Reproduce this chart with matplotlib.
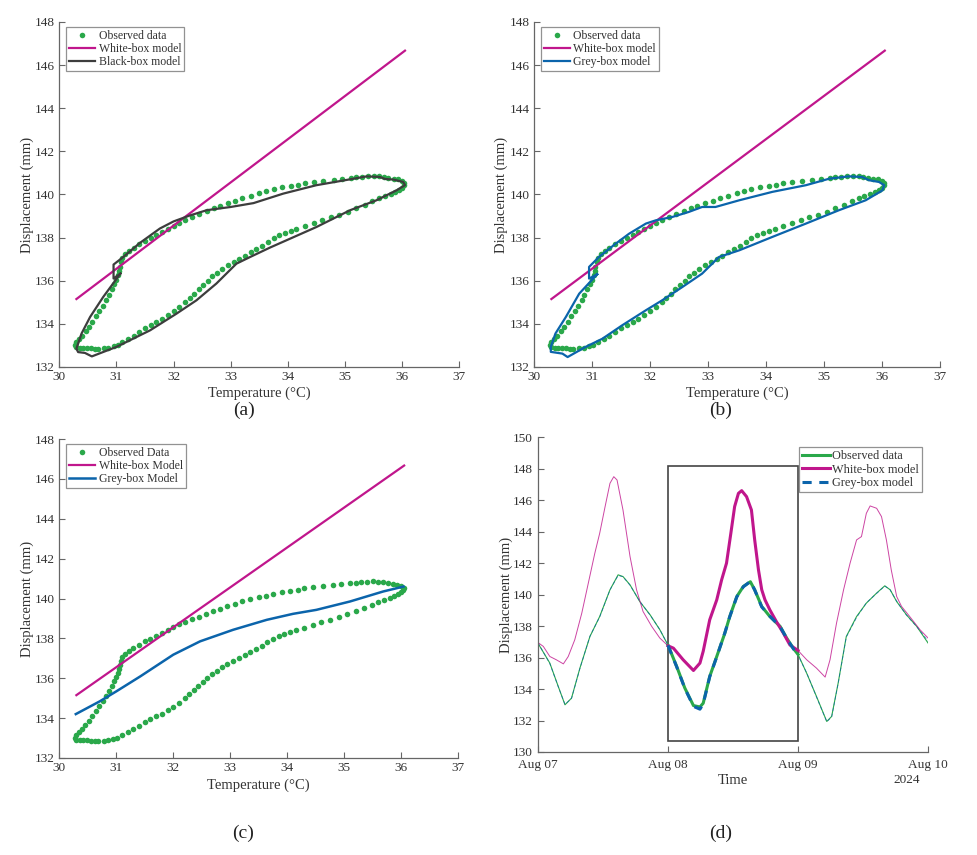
import numpy as np
import matplotlib.pyplot as plt
from matplotlib.patches import Rectangle

plt.rcParams['font.family'] = ['Liberation Serif', 'DejaVu Serif']

# observed hysteresis loop (temperature degC, displacement mm), Aug 08
obs_temp = [31.10, 31.08, 31.06, 31.05, 31.03, 31.00, 30.96, 30.92, 30.87, 30.82,
            30.76, 30.70, 30.64, 30.58, 30.52, 30.46, 30.40, 30.35, 30.30, 30.27,
            30.30, 30.36, 30.42, 30.48, 30.55, 30.62, 30.68, 30.78, 30.86, 30.95,
            31.02, 31.10, 31.20, 31.30, 31.40, 31.50, 31.60, 31.70, 31.80, 31.90,
            32.00, 32.10, 32.20, 32.28, 32.36, 32.44, 32.52, 32.60, 32.68, 32.76,
            32.85, 32.95, 33.05, 33.15, 33.25, 33.35, 33.45, 33.55, 33.65, 33.75,
            33.85, 33.95, 34.05, 34.15, 34.30, 34.45, 34.60, 34.75, 34.90, 35.05,
            35.20, 35.35, 35.48, 35.60, 35.70, 35.80, 35.88, 35.95, 36.00, 36.03,
            36.04, 36.00, 35.93, 35.85, 35.76, 35.68, 35.60, 35.50, 35.40, 35.30,
            35.20, 35.10, 34.95, 34.80, 34.62, 34.45, 34.30, 34.18, 34.05, 33.90,
            33.75, 33.62, 33.50, 33.35, 33.20, 33.08, 32.95, 32.82, 32.70, 32.58,
            32.45, 32.32, 32.20, 32.10, 32.00, 31.90, 31.80, 31.70, 31.60, 31.50,
            31.40, 31.30, 31.22, 31.15]
obs_disp = [137.05, 136.85, 136.65, 136.45, 136.25, 136.05, 135.85, 135.60, 135.35, 135.10,
            134.85, 134.60, 134.35, 134.10, 133.85, 133.65, 133.45, 133.30, 133.15, 133.02,
            132.92, 132.88, 132.90, 132.88, 132.87, 132.85, 132.83, 132.87, 132.90, 132.95,
            133.02, 133.15, 133.30, 133.45, 133.62, 133.80, 133.95, 134.08, 134.22, 134.40,
            134.58, 134.78, 135.00, 135.20, 135.40, 135.60, 135.80, 136.00, 136.20, 136.38,
            136.55, 136.72, 136.88, 137.02, 137.15, 137.32, 137.48, 137.62, 137.80, 137.97,
            138.10, 138.20, 138.30, 138.40, 138.52, 138.66, 138.80, 138.94, 139.06, 139.20,
            139.36, 139.52, 139.68, 139.82, 139.94, 140.04, 140.12, 140.22, 140.32, 140.42,
            140.52, 140.62, 140.70, 140.74, 140.78, 140.82, 140.85, 140.86, 140.85, 140.82,
            140.80, 140.78, 140.72, 140.68, 140.63, 140.58, 140.52, 140.45, 140.40, 140.33,
            140.25, 140.15, 140.08, 139.95, 139.85, 139.72, 139.60, 139.48, 139.36, 139.22,
            139.08, 138.95, 138.82, 138.70, 138.55, 138.42, 138.28, 138.12, 137.98, 137.85,
            137.68, 137.52, 137.38, 137.22]

# white-box model (linear in temperature)
wb_temp = [30.30, 36.05]
wb_disp = [135.15, 146.67]

# black-box model, panel (a)
bb_temp = [31.07, 30.77, 30.54, 30.39, 30.30, 30.33, 30.45, 30.57, 31.00, 31.59,
           32.05, 32.40, 32.75, 33.10, 33.34, 33.69, 33.98, 34.50, 35.09, 35.55,
           35.90, 36.05, 36.02, 35.85, 35.70, 35.61, 35.38, 35.15, 34.50, 33.92,
           33.40, 33.00, 32.58, 32.29, 32.00, 31.76, 31.41, 31.12, 30.95, 30.95, 31.07]
bb_disp = [136.33, 135.25, 134.32, 133.55, 132.85, 132.69, 132.65, 132.49, 132.93, 133.70,
           134.47, 135.09, 135.87, 136.79, 137.10, 137.54, 137.88, 138.49, 139.27, 139.73,
           140.19, 140.43, 140.58, 140.69, 140.72, 140.81, 140.84, 140.73, 140.43, 140.04,
           139.60, 139.42, 139.27, 139.03, 138.75, 138.42, 137.75, 137.10, 136.75, 136.10, 136.33]

# grey-box model, panel (b)
gb_temp = [31.09, 30.78, 30.55, 30.37, 30.29, 30.29, 30.49, 30.58, 30.89, 31.18,
           31.52, 31.93, 32.21, 32.56, 32.90, 33.19, 33.54, 34.11, 34.69, 35.26,
           35.72, 36.01, 36.04, 35.95, 35.78, 35.66, 35.43, 35.09, 34.69, 34.11,
           33.54, 33.13, 32.90, 32.67, 32.39, 32.10, 31.93, 31.64, 31.41, 31.12,
           30.95, 30.95, 31.09]
gb_disp = [136.30, 135.40, 134.32, 133.55, 132.93, 132.70, 132.62, 132.46, 132.93, 133.31,
           133.93, 134.63, 135.09, 135.71, 136.33, 137.10, 137.41, 138.03, 138.65, 139.27,
           139.73, 140.19, 140.43, 140.58, 140.66, 140.81, 140.84, 140.73, 140.43, 140.12,
           139.73, 139.42, 139.42, 139.19, 138.96, 138.80, 138.65, 138.18, 137.72, 137.10,
           136.64, 136.10, 136.30]

# grey-box model, panel (c)
gbc_temp = [30.29, 30.71, 31.00, 31.42, 32.00, 32.47, 33.05, 33.64, 34.10, 34.51, 35.10, 35.68, 36.04]
gbc_disp = [134.20, 134.84, 135.34, 136.09, 137.18, 137.85, 138.43, 138.93, 139.23, 139.43, 139.85, 140.35, 140.60]

# time series, panel (d): hours from Aug 07 00:00
obs_hours = [0, 2.2, 3.75, 5.0, 6.2, 7.75, 9.6, 11.4, 13.3, 14.8,
             15.7, 17.0, 18.8, 20.7, 22.5, 24.0, 25.6, 27.1, 28.7, 29.9,
             30.5, 31.7, 33.0, 34.5, 35.4, 36.7, 37.9, 39.2, 40.0, 41.3,
             42.8, 44.7, 45.9, 47.1, 48.0, 49.6, 51.4, 53.3, 54.2, 55.4,
             56.9, 58.8, 60.6, 62.5, 64.0, 65.0, 66.2, 68.0, 69.9, 72.0]
obs_series = [136.92, 135.65, 134.17, 133.00, 133.42, 135.33, 137.34, 138.61, 140.31, 141.26,
              141.15, 140.62, 139.56, 138.72, 137.77, 136.80, 135.44, 134.07, 132.95, 132.86,
              133.10, 134.80, 136.07, 137.56, 138.61, 139.88, 140.52, 140.82, 140.31, 139.25,
              138.61, 137.98, 137.24, 136.60, 136.20, 135.00, 133.53, 131.94, 132.26, 134.38,
              137.34, 138.61, 139.46, 140.10, 140.56, 140.31, 139.56, 138.72, 137.98, 136.92]
grey_series = [136.95, 135.62, 134.15, 133.02, 133.40, 135.30, 137.36, 138.58, 140.30, 141.22,
               141.14, 140.60, 139.58, 138.70, 137.78, 136.78, 135.42, 134.05, 132.90, 132.72,
               133.05, 134.78, 136.05, 137.58, 138.60, 139.86, 140.50, 140.84, 140.30, 139.22,
               138.63, 137.96, 137.22, 136.58, 136.15, 135.02, 133.50, 131.92, 132.22, 134.35,
               137.30, 138.55, 139.48, 140.08, 140.55, 140.30, 139.58, 138.70, 137.96, 137.05]
wb_hours = [0, 1.0, 2.2, 3.4, 4.7, 5.6, 6.8, 8.1, 9.3, 10.5,
            11.4, 12.4, 13.3, 14.0, 14.6, 15.7, 17.0, 18.2, 19.4, 21.0,
            22.5, 24.0, 25.0, 26.8, 28.7, 29.9, 30.5, 31.7, 33.0, 33.9,
            34.8, 35.6, 36.3, 37.0, 37.6, 38.5, 39.4, 40.0, 40.7, 41.3,
            41.9, 42.8, 44.0, 45.3, 46.5, 48.0, 49.6, 51.4, 53.0, 53.9,
            55.1, 56.4, 57.6, 58.8, 59.7, 60.6, 61.3, 62.5, 63.4, 64.3,
            65.2, 66.2, 67.1, 68.6, 70.5, 72.0]
wb_series = [136.96, 136.71, 136.07, 135.86, 135.60, 136.07, 137.13, 138.83, 140.73, 142.63,
             143.90, 145.60, 147.08, 147.50, 147.29, 145.38, 142.42, 140.31, 138.93, 137.98,
             137.24, 136.75, 136.60, 135.86, 135.18, 135.65, 136.40, 138.40, 139.67, 140.94,
             142.00, 143.90, 145.60, 146.44, 146.61, 146.23, 145.38, 143.48, 141.57, 140.31,
             139.67, 139.03, 138.29, 137.55, 136.80, 136.45, 135.86, 135.33, 134.76, 135.86,
             138.19, 140.31, 142.00, 143.48, 143.69, 145.17, 145.64, 145.49, 144.96, 143.48,
             141.57, 139.88, 139.25, 138.61, 137.77, 137.24]
day_ticks = [0, 24, 48, 72]
day_labels = ['Aug 07', 'Aug 08', 'Aug 09', 'Aug 10']
box_hours = [24, 48]
box_disp = [130.7, 148.15]

GREEN = '#2aa84a'
MAGENTA = '#c0168c'
BLACKBOX = '#3d3d3d'
BLUE = '#0b64ab'
AXC = '#666666'
TXT = '#333333'


def style_axes(ax):
    for s in ['top', 'right']:
        ax.spines[s].set_visible(False)
    for s in ['left', 'bottom']:
        ax.spines[s].set_color(AXC)
        ax.spines[s].set_linewidth(0.9)
    ax.tick_params(direction='in', length=4, width=0.8, colors=AXC,
                   labelcolor=TXT, labelsize=9.5, pad=3)


def loop_axes(ax, label_c=-0.075):
    style_axes(ax)
    ax.set_xlim(30, 37)
    ax.set_ylim(132, 148)
    ax.set_xticks(range(30, 38))
    ax.set_yticks(range(132, 149, 2))
    ax.set_xlabel('Temperature (°C)', fontsize=10.5, color=TXT, va='center')
    ax.xaxis.set_label_coords(0.5, label_c)
    ax.set_ylabel('Displacement (mm)', fontsize=10.5, color=TXT, va='center')
    ax.yaxis.set_label_coords(-0.08, 0.5)


def finish_legend(leg):
    leg.get_frame().set_linewidth(0.9)
    for t in leg.get_texts():
        t.set_color(TXT)


def loop_legend(ax):
    leg = ax.legend(loc='upper left', bbox_to_anchor=(0.017, 0.985), borderaxespad=0,
                    fontsize=8.5, frameon=True, fancybox=False, edgecolor='#777777',
                    borderpad=0.25, labelspacing=0.1, handlelength=2.2, handletextpad=0.3)
    finish_legend(leg)


fig = plt.figure(figsize=(9.78, 8.55), dpi=100)
ax_a = fig.add_axes([0.0606, 0.5708, 0.409, 0.4035])
ax_b = fig.add_axes([0.546, 0.5708, 0.415, 0.4035])
ax_c = fig.add_axes([0.0606, 0.1135, 0.408, 0.373])
ax_d = fig.add_axes([0.550, 0.1205, 0.399, 0.368])

# (a)
ax_a.plot(obs_temp, obs_disp, 'o', color=GREEN, ms=4, mew=0, label='Observed data')
ax_a.plot(wb_temp, wb_disp, color=MAGENTA, lw=1.6, label='White-box model')
ax_a.plot(bb_temp, bb_disp, color=BLACKBOX, lw=1.6, label='Black-box model')
loop_axes(ax_a)
loop_legend(ax_a)

# (b)
ax_b.plot(obs_temp, obs_disp, 'o', color=GREEN, ms=4, mew=0, label='Observed data')
ax_b.plot(wb_temp, wb_disp, color=MAGENTA, lw=1.6, label='White-box model')
ax_b.plot(gb_temp, gb_disp, color=BLUE, lw=1.6, label='Grey-box model')
loop_axes(ax_b)
loop_legend(ax_b)

# (c)
ax_c.plot(obs_temp, obs_disp, 'o', color=GREEN, ms=4, mew=0, label='Observed Data')
ax_c.plot(wb_temp, wb_disp, color=MAGENTA, lw=1.6, label='White-box Model')
ax_c.plot(gbc_temp, gbc_disp, color=BLUE, lw=1.8, label='Grey-box Model')
loop_axes(ax_c, label_c=-0.085)
loop_legend(ax_c)

# (d)
oh = np.array(obs_hours)
wh = np.array(wb_hours)
obs_v = np.array(obs_series)
grey_v = np.array(grey_series)
wb_v = np.array(wb_series)
in_obs = (oh >= box_hours[0]) & (oh <= box_hours[1])
in_wb = (wh >= box_hours[0]) & (wh <= box_hours[1])

ax_d.plot(oh, obs_v, color=GREEN, lw=0.8)
ax_d.plot(wh, wb_v, color=MAGENTA, lw=0.7, alpha=0.8)
ax_d.plot(oh, grey_v, color=BLUE, lw=0.6, ls=(0, (4, 3)), alpha=0.7)
ax_d.plot(oh[in_obs], obs_v[in_obs], color=GREEN, lw=2.2, label='Observed data')
ax_d.plot(wh[in_wb], wb_v[in_wb], color=MAGENTA, lw=2.2, label='White-box model')
ax_d.plot(oh[in_obs], grey_v[in_obs], color=BLUE, lw=2.2, ls=(0, (3, 2.5)),
          label='Grey-box model')
ax_d.add_patch(Rectangle((box_hours[0], box_disp[0]), box_hours[1] - box_hours[0],
                         box_disp[1] - box_disp[0], fill=False, edgecolor='#444444', lw=1.2))
style_axes(ax_d)
ax_d.tick_params(axis='x', pad=5)
ax_d.tick_params(axis='y', pad=4)
ax_d.set_xlim(0, 72)
ax_d.set_ylim(130, 150)
ax_d.set_yticks(range(130, 151, 2))
ax_d.set_xticks(day_ticks)
ax_d.set_xticklabels(day_labels)
ax_d.set_xlabel('Time', fontsize=10.5, color=TXT, va='center')
ax_d.xaxis.set_label_coords(0.5, -0.09)
ax_d.text(0.946, -0.09, '2024', transform=ax_d.transAxes, fontsize=9.5, color=TXT,
          ha='center', va='center')
ax_d.set_ylabel('Displacement (mm)', fontsize=10.5, color=TXT, va='center')
ax_d.yaxis.set_label_coords(-0.082, 0.5)
leg = ax_d.legend(loc='upper right', bbox_to_anchor=(0.985, 0.968), borderaxespad=0,
                  fontsize=8.8, frameon=True, fancybox=False, edgecolor='#777777',
                  borderpad=0.25, labelspacing=0.1, handlelength=2.3, handletextpad=0.2)
finish_legend(leg)

# panel letters
for x, y, s in [(0.249, 0.52, '(a)'), (0.737, 0.52, '(b)'), (0.249, 0.025, '(c)'), (0.737, 0.025, '(d)')]:
    fig.text(x, y, s, fontsize=14, color='#222222', ha='center', va='center')

fig.savefig('out.png', dpi=100)
